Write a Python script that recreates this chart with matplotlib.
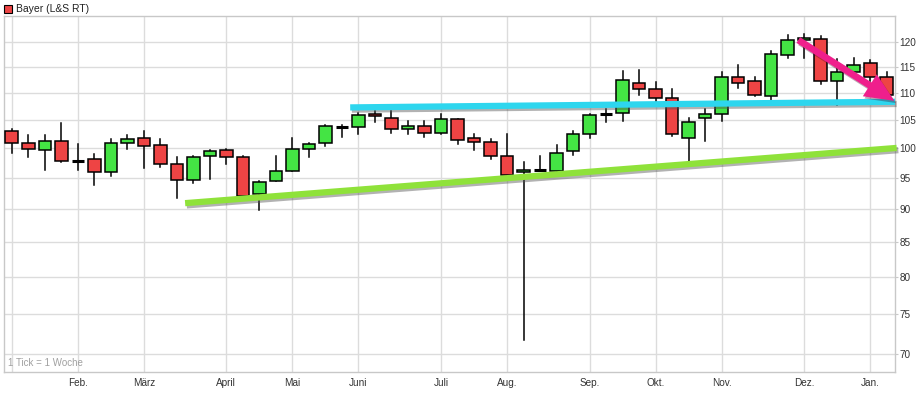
import matplotlib
matplotlib.use("Agg")
import matplotlib.pyplot as plt
import matplotlib.patheffects as pe
from matplotlib.patches import Rectangle, FancyArrowPatch
from matplotlib.ticker import FixedLocator, NullLocator, FixedFormatter

plt.rcParams["font.family"] = ["Liberation Sans", "DejaVu Sans"]

# ---- data (weekly candles, Bayer L&S RT) ----
opens = [102.9, 100.9, 99.6, 101.2, 97.8, 98.1, 96.0, 100.8, 101.7, 100.5,
         97.2, 94.6, 98.6, 99.7, 98.4, 92.3, 94.5, 96.1, 99.8, 100.8,
         103.6, 103.6, 106.1, 105.3, 103.4, 103.8, 102.7, 105.1, 101.7, 101.0,
         98.6, 95.9, 96.2, 96.1, 99.5, 102.4, 106.1, 106.2, 111.8, 110.7,
         109.1, 101.8, 105.3, 106.1, 113.1, 112.2, 109.4, 117.4, 120.6, 120.8,
         112.3, 114.0, 115.9, 113.0]
highs = [103.4, 102.2, 102.2, 104.4, 100.6, 98.9, 101.5, 102.2, 102.9, 101.6,
         98.4, 98.6, 99.6, 99.9, 98.6, 94.5, 98.7, 101.7, 100.8, 104.1,
         104.1, 106.2, 106.5, 106.5, 104.7, 104.8, 106.1, 105.2, 102.4, 101.5,
         102.4, 97.6, 98.6, 100.5, 102.9, 106.1, 107.0, 114.2, 114.4, 112.1,
         110.7, 105.3, 107.0, 114.0, 115.4, 113.0, 118.3, 121.5, 121.7, 121.3,
         116.7, 116.9, 116.4, 114.0]
lows = [99.2, 98.5, 96.3, 97.6, 96.3, 93.8, 95.3, 99.8, 96.6, 96.8,
        91.7, 94.1, 94.7, 97.2, 92.0, 89.9, 94.5, 96.1, 98.5, 100.4,
        101.9, 102.4, 104.6, 102.7, 102.4, 101.9, 102.5, 100.6, 99.7, 98.1,
        95.4, 71.8, 96.1, 96.1, 98.8, 101.7, 104.6, 104.7, 109.5, 108.2,
        102.0, 96.9, 101.2, 104.7, 111.0, 109.3, 108.5, 116.9, 116.9, 111.7,
        107.7, 113.4, 112.2, 109.5]
closes = [100.9, 99.9, 101.2, 97.7, 97.8, 96.0, 100.9, 101.5, 100.4, 97.2,
          94.6, 98.4, 99.5, 98.5, 92.1, 94.3, 96.1, 99.9, 100.6, 103.9,
          103.6, 105.9, 105.6, 103.4, 103.8, 102.7, 105.1, 101.4, 101.0, 98.6,
          95.4, 96.2, 96.2, 99.2, 102.4, 105.9, 106.1, 112.5, 110.7, 109.0,
          102.4, 104.6, 106.1, 113.1, 111.9, 109.6, 117.6, 120.6, 121.0, 112.3,
          114.0, 115.4, 113.1, 109.5]

month_labels = ["", "Feb.", "März", "April", "Mai", "Juni", "Juli", "Aug.",
                "Sep.", "Okt.", "Nov.", "Dez.", "Jan."]
month_weeks = [0, 4, 8, 13, 17, 21, 26, 30, 35, 39, 43, 48, 52]
y_ticks = [70, 75, 80, 85, 90, 95, 100, 105, 110, 115, 120]

# trend lines (week index, price)
support_x = [10.5, 53.6]
support_y = [90.9, 100.0]
resist_x = [20.5, 53.5]
resist_y = [107.25, 108.3]
arrow_x = [47.5, 53.6]
arrow_y = [120.8, 108.2]

# ---- figure ----
W, H = 917, 393
fig = plt.figure(figsize=(W / 100, H / 100), dpi=100)
fig.patch.set_facecolor("white")
L, R, T, B = 4, 895, 16, 372
ax = fig.add_axes([L / W, 1 - B / H, (R - L) / W, (B - T) / H])
ax.set_facecolor("white")

ax.set_yscale("log")
ax.set_ylim(67.9, 125.6)
ax.set_xlim(-0.47, 53.5)

grid_c = "#dcdcdc"
for yv in y_ticks:
    ax.axhline(yv, color=grid_c, lw=1, zorder=0)
for xv in month_weeks:
    ax.axvline(xv, color=grid_c, lw=1, zorder=0)

red = "#ee4444"
green = "#44e444"
bw = 0.76
for i, (o, h, l, c) in enumerate(zip(opens, highs, lows, closes)):
    ax.plot([i, i], [l, h], color="black", lw=1.1, zorder=2)
    if abs(c - o) < 0.15:
        ax.plot([i - bw / 2, i + bw / 2], [o, o], color="black", lw=2.2,
                zorder=3, solid_capstyle="butt")
    else:
        col = green if c > o else red
        lo, hi = min(o, c), max(o, c)
        ax.add_patch(Rectangle((i - bw / 2, lo), bw, hi - lo, facecolor=col,
                               edgecolor="black", lw=1.1, zorder=3))

shadow = [pe.SimpleLineShadow(offset=(1.2, -1.6), shadow_color="#555555",
                              alpha=0.45), pe.Normal()]
ax.plot(support_x, support_y, color="#8fe23a", lw=4.5, zorder=4,
        solid_capstyle="butt", path_effects=shadow, clip_on=False)
ax.plot(resist_x, resist_y, color="#2ed6ee", lw=4.5, zorder=4,
        solid_capstyle="butt", path_effects=shadow, clip_on=False)

arr = FancyArrowPatch((arrow_x[0], arrow_y[0]), (arrow_x[1], arrow_y[1]),
                      arrowstyle="simple,head_length=0.95,head_width=0.85,tail_width=0.22",
                      mutation_scale=22, color="#ef1f8c", lw=0, zorder=5,
                      clip_on=False)
arr.set_path_effects([pe.SimplePatchShadow(offset=(1.2, -1.6), alpha=0.35),
                      pe.Normal()])
ax.add_patch(arr)

# axes styling
for s in ax.spines.values():
    s.set_color("#c8c8c8")
    s.set_linewidth(1)

ax.yaxis.tick_right()
ax.yaxis.set_major_locator(FixedLocator(y_ticks))
ax.yaxis.set_major_formatter(FixedFormatter([str(v) for v in y_ticks]))
ax.yaxis.set_minor_locator(NullLocator())
ax.tick_params(axis="y", which="major", length=2.5, color="#c8c8c8", pad=0.5,
               labelsize=7.2, labelcolor="#333333")

ax.xaxis.set_major_locator(FixedLocator(month_weeks))
ax.xaxis.set_major_formatter(FixedFormatter(month_labels))
ax.xaxis.set_minor_locator(NullLocator())
ax.tick_params(axis="x", which="major", length=0, pad=4,
               labelsize=7.2, labelcolor="#333333")

ax.text(0.005, 0.012, "1 Tick = 1 Woche", transform=ax.transAxes,
        fontsize=7, color="#a0a0a0", ha="left", va="bottom")

# legend-like header
fig.patches.append(Rectangle((4 / W, 1 - 13 / H), 8 / W, 8 / H,
                             transform=fig.transFigure, facecolor=red,
                             edgecolor="black", lw=0.8))
fig.text(16 / W, 1 - 9.5 / H, "Bayer (L&S RT)", fontsize=7.5,
         color="#222222", ha="left", va="center")

fig.savefig("out.png", dpi=100, facecolor="white")
